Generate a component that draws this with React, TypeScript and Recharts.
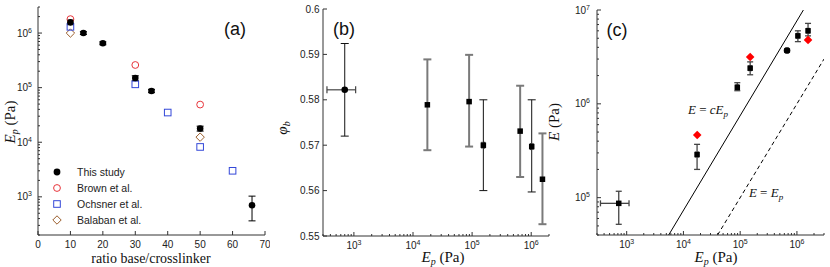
import React from 'react';
import { ScatterChart, Scatter, XAxis, YAxis, ErrorBar, Legend } from 'recharts';

// ---------- Panel (a) data ----------
const ratioStudy = [10, 14, 20, 30, 35, 50, 66];
const epStudy = [1.57e6, 1.0e6, 6.5e5, 1.5e5, 8.7e4, 1.78e4, 700];
const epStudyLow = [1.42e6, 0.94e6, 6.1e5, 1.34e5, 8.1e4, 1.6e4, 363];
const epStudyHigh = [1.72e6, 1.06e6, 6.9e5, 1.65e5, 9.3e4, 1.97e4, 1030];
const ratioBrown = [10, 30, 50];
const epBrown = [1.8e6, 2.6e5, 4.9e4];
const ratioOchsner = [10, 30, 40, 50, 60];
const epOchsner = [1.3e6, 1.15e5, 3.5e4, 8.2e3, 3.0e3];
const ratioBalaban = [10, 50];
const epBalaban = [1.0e6, 1.24e4];
const legendNames = ['This study', 'Brown et al.', 'Ochsner et al.', 'Balaban et al.'];

// ---------- Panel (b) data ----------
const epB = [700, 1.75e4, 8.9e4, 1.55e5, 6.5e5, 1.02e6, 1.55e6];
const epBLow = [350, 1.65e4, 8.4e4, 1.47e5, 6.15e5, 0.97e6, 1.47e6];
const epBHigh = [1070, 1.85e4, 9.4e4, 1.63e5, 6.85e5, 1.07e6, 1.63e6];
const phiB = [0.5822, 0.5789, 0.5796, 0.57, 0.5731, 0.5697, 0.5625];
const phiBLow = [0.572, 0.5689, 0.5697, 0.56, 0.563, 0.5597, 0.5526];
const phiBHigh = [0.5924, 0.5889, 0.5899, 0.58, 0.5831, 0.58, 0.5726];
const grayBarsB = [false, true, true, false, true, false, true];
const circleB = [true, false, false, false, false, false, false];

// ---------- Panel (c) data ----------
const epC = [725, 1.74e4, 8.9e4, 1.5e5, 6.7e5, 1.04e6, 1.57e6];
const epCLow = [345, 1.65e4, 8.5e4, 1.43e5, 6.4e5, 0.99e6, 1.5e6];
const epCHigh = [1100, 1.83e4, 9.3e4, 1.57e5, 7.0e5, 1.09e6, 1.64e6];
const eC = [8.7e4, 2.88e5, 1.5e6, 2.4e6, 3.7e6, 5.3e6, 6.0e6];
const eCLow = [5.2e4, 2.0e5, 1.38e6, 2.04e6, 3.55e6, 4.6e6, 5.3e6];
const eCHigh = [1.17e5, 3.7e5, 1.68e6, 2.8e6, 3.85e6, 6.0e6, 7.2e6];
const circleC = [false, false, false, false, true, false, false];
const epRed = [1.75e4, 1.5e5, 1.57e6];
const eRed = [4.66e5, 3.15e6, 4.8e6];
const lineCEpX = [5500, 1.3e6];
const lineCEpY = [4e4, 1e7];
const lineEqX = [4e4, 3e6];
const lineEqY = [4e4, 3e6];

// ---------- ticks ----------
const aXTicks = [0, 10, 20, 30, 40, 50, 60, 70];
const decadeMajors = [1e3, 1e4, 1e5, 1e6, 1e7];
const bYTicks = [0.55, 0.56, 0.57, 0.58, 0.59, 0.6];
const bYLabels = ['0.55', '0.56', '0.57', '0.58', '0.59', '0.6'];

const logTicks = (lo: number, hi: number) => {
  const out: number[] = [];
  for (let e = Math.floor(Math.log10(lo)); e <= Math.ceil(Math.log10(hi)); e++) {
    for (let m = 1; m < 10; m++) {
      const v = m * Math.pow(10, e);
      if (v >= lo * 0.999 && v <= hi * 1.001) out.push(v);
    }
  }
  return out;
};

const fontSans = '"Liberation Sans", Arial, Helvetica, sans-serif';
const fontSerif = '"Liberation Serif", "Times New Roman", serif';
const axisColor = '#333';
const tickText = '#222';

const isIn = (arr: number[], v: number) => arr.some((m) => Math.abs(m - v) < 1e-9 * Math.max(1, Math.abs(m)));

const pow10 = (v: number) => {
  const e = Math.round(Math.log10(v));
  return (
    <>
      <tspan>10</tspan>
      <tspan dy={-4} fontSize={7}>{e}</tspan>
    </>
  );
};

type Side = 'bottom' | 'top' | 'left' | 'right';
const makeTick = (
  side: Side,
  majors: number[],
  label?: (v: number) => React.ReactNode,
  gap = 4,
) => (props: any) => {
  const { x, y, payload } = props;
  const v = payload.value;
  const major = isIn(majors, v);
  const len = major ? 4 : 2;
  let line: React.ReactNode = null;
  if (side === 'bottom') line = <line x1={x} y1={y} x2={x} y2={y - len} stroke={axisColor} />;
  if (side === 'top') line = <line x1={x} y1={y} x2={x} y2={y + len} stroke={axisColor} />;
  if (side === 'left') line = <line x1={x} y1={y} x2={x + len} y2={y} stroke={axisColor} />;
  if (side === 'right') line = <line x1={x} y1={y} x2={x - len} y2={y} stroke={axisColor} />;
  let text: React.ReactNode = null;
  if (major && label) {
    if (side === 'bottom')
      text = (
        <text x={x} y={y + 13} textAnchor="middle" fontSize={10} fontFamily={fontSans} fill={tickText}>
          {label(v)}
        </text>
      );
    if (side === 'left')
      text = (
        <text x={x - gap} y={y + 3.5} textAnchor="end" fontSize={10} fontFamily={fontSans} fill={tickText}>
          {label(v)}
        </text>
      );
  }
  return (
    <g>
      {line}
      {text}
    </g>
  );
};

const axisLine = { stroke: axisColor, strokeWidth: 1 };
const common = { tickSize: 0, tickMargin: 0, tickLine: false, interval: 0 as const, allowDataOverflow: true, axisLine };

// ---------- tables ----------
const tableStudy = ratioStudy.map((x, i) => ({ x, y: epStudy[i], err: [epStudy[i] - epStudyLow[i], epStudyHigh[i] - epStudy[i]] }));
const tableBrown = ratioBrown.map((x, i) => ({ x, y: epBrown[i] }));
const tableOchsner = ratioOchsner.map((x, i) => ({ x, y: epOchsner[i] }));
const tableBalaban = ratioBalaban.map((x, i) => ({ x, y: epBalaban[i] }));

const tableB = epB.map((x, i) => ({
  x,
  y: phiB[i],
  ex: [x - epBLow[i], epBHigh[i] - x],
  ey: [phiB[i] - phiBLow[i], phiBHigh[i] - phiB[i]],
  circle: circleB[i],
}));
const tableBGray = tableB.filter((_, i) => grayBarsB[i]);
const tableBBlack = tableB.filter((_, i) => !grayBarsB[i]);

const tableC = epC.map((x, i) => ({
  x,
  y: eC[i],
  ex: [x - epCLow[i], epCHigh[i] - x],
  ey: [eC[i] - eCLow[i], eCHigh[i] - eC[i]],
  circle: circleC[i],
}));
const tableRed = epRed.map((x, i) => ({ x, y: eRed[i] }));
const tableLineC = lineCEpX.map((x, i) => ({ x, y: lineCEpY[i] }));
const tableLineEq = lineEqX.map((x, i) => ({ x, y: lineEqY[i] }));

// ---------- shapes ----------
const BlackCircle = (r: number) => (p: any) => <circle cx={p.cx} cy={p.cy} r={r} fill="#000" />;
const RedCircle = (p: any) => <circle cx={p.cx} cy={p.cy} r={3.4} fill="none" stroke="#e8353b" strokeWidth={1} />;
const BlueSquare = (p: any) => <rect x={p.cx - 3.3} y={p.cy - 3.3} width={6.6} height={6.6} fill="none" stroke="#3347d8" strokeWidth={1} />;
const BrownDiamond = (p: any) => (
  <path d={`M${p.cx},${p.cy - 4.2}L${p.cx + 4.2},${p.cy}L${p.cx},${p.cy + 4.2}L${p.cx - 4.2},${p.cy}Z`} fill="none" stroke="#9b5e2c" strokeWidth={1} />
);
const RedDiamond = (p: any) => (
  <path d={`M${p.cx},${p.cy - 4.3}L${p.cx + 4.3},${p.cy}L${p.cx},${p.cy + 4.3}L${p.cx - 4.3},${p.cy}Z`} fill="#ff0000" />
);
const SquareOrCircle = (s: number) => (p: any) =>
  p.payload && p.payload.circle ? (
    <circle cx={p.cx} cy={p.cy} r={s * 0.6} fill="#000" />
  ) : (
    <rect x={p.cx - s / 2} y={p.cy - s / 2} width={s} height={s} fill="#000" />
  );
const NoShape = () => <g />;

const legendIcons = [
  <circle cx={5} cy={5} r={3.4} fill="#000" />,
  <circle cx={5} cy={5} r={3.4} fill="none" stroke="#e8353b" />,
  <rect x={1.7} y={1.7} width={6.6} height={6.6} fill="none" stroke="#3347d8" />,
  <path d="M5,0.8L9.2,5L5,9.2L0.8,5Z" fill="none" stroke="#9b5e2c" />,
];

const LegendBox = () => (
  <div style={{ fontFamily: fontSans, fontSize: 10.5, color: '#222' }}>
    {legendNames.map((n, i) => (
      <div key={n} style={{ display: 'flex', alignItems: 'center', height: 16 }}>
        <svg width={10} height={10} style={{ marginRight: 15, overflow: 'visible' }}>
          {legendIcons[i]}
        </svg>
        <span>{n}</span>
      </div>
    ))}
  </div>
);

const aYTicks = logTicks(200, 3e6);
const bXTicks = logTicks(300, 2e6);
const cXTicks = logTicks(300, 3e6);
const cYTicks = logTicks(4e4, 1e7);

const PanelA = () => (
  <ScatterChart width={270} height={267} margin={{ top: 7, right: 5, bottom: 0, left: 0 }}>
    <XAxis dataKey="x" type="number" domain={[0, 70]} ticks={aXTicks} height={32} tick={makeTick('bottom', aXTicks, (v) => String(v))} {...common} />
    <XAxis xAxisId="t" orientation="top" dataKey="x" type="number" domain={[0, 70]} ticks={aXTicks} height={0} tick={makeTick('top', aXTicks)} {...common} />
    <YAxis dataKey="y" type="number" scale="log" domain={[200, 3e6]} ticks={aYTicks} width={38} tick={makeTick('left', decadeMajors, pow10, 6)} {...common} />
    <YAxis yAxisId="r" orientation="right" dataKey="y" type="number" scale="log" domain={[200, 3e6]} ticks={aYTicks} width={0} tick={makeTick('right', decadeMajors)} {...common} />
    <Scatter data={tableBalaban} shape={BrownDiamond} isAnimationActive={false} />
    <Scatter data={tableOchsner} shape={BlueSquare} isAnimationActive={false} />
    <Scatter data={tableBrown} shape={RedCircle} isAnimationActive={false} />
    <Scatter data={tableStudy} shape={BlackCircle(3.3)} isAnimationActive={false}>
      <ErrorBar dataKey="err" direction="y" width={3.5} stroke="#000" strokeWidth={1} isAnimationActive={false} />
    </Scatter>
    <Legend layout="vertical" align="center" verticalAlign="middle" content={() => <LegendBox />} wrapperStyle={{ left: 52, top: 163.5, width: 130 }} />
  </ScatterChart>
);

const PanelB = () => (
  <ScatterChart width={285} height={267} margin={{ top: 9, right: 6, bottom: 0, left: 0 }}>
    <XAxis dataKey="x" type="number" scale="log" domain={[300, 2e6]} ticks={bXTicks} height={31} tick={makeTick('bottom', decadeMajors, pow10)} {...common} />
    <XAxis xAxisId="t" orientation="top" dataKey="x" type="number" scale="log" domain={[300, 2e6]} ticks={bXTicks} height={0} tick={makeTick('top', decadeMajors)} {...common} />
    <YAxis dataKey="y" type="number" domain={[0.55, 0.6]} ticks={bYTicks} width={53} tick={makeTick('left', bYTicks, (v) => bYLabels[bYTicks.findIndex((t) => Math.abs(t - v) < 1e-9)], 3.5)} {...common} />
    <YAxis yAxisId="r" orientation="right" dataKey="y" type="number" domain={[0.55, 0.6]} ticks={bYTicks} width={0} tick={makeTick('right', bYTicks)} {...common} />
    <Scatter data={tableBGray} shape={SquareOrCircle(5.5)} isAnimationActive={false}>
      <ErrorBar dataKey="ey" direction="y" width={4} stroke="#7a7a7a" strokeWidth={2} isAnimationActive={false} />
      <ErrorBar dataKey="ex" direction="x" width={2} stroke="#7a7a7a" strokeWidth={1.5} isAnimationActive={false} />
    </Scatter>
    <Scatter data={tableBBlack} shape={SquareOrCircle(5.5)} isAnimationActive={false}>
      <ErrorBar dataKey="ey" direction="y" width={4} stroke="#111" strokeWidth={1} isAnimationActive={false} />
      <ErrorBar dataKey="ex" direction="x" width={3.5} stroke="#444" strokeWidth={1.2} isAnimationActive={false} />
    </Scatter>
  </ScatterChart>
);

const PanelC = () => (
  <ScatterChart width={280} height={267} margin={{ top: 10, right: 6, bottom: 0, left: 0 }}>
    <XAxis dataKey="x" type="number" scale="log" domain={[300, 3e6]} ticks={cXTicks} height={32} tick={makeTick('bottom', decadeMajors, pow10)} {...common} />
    <XAxis xAxisId="t" orientation="top" dataKey="x" type="number" scale="log" domain={[300, 3e6]} ticks={cXTicks} height={0} tick={makeTick('top', decadeMajors)} {...common} />
    <YAxis dataKey="y" type="number" scale="log" domain={[4e4, 1e7]} ticks={cYTicks} width={47} tick={makeTick('left', decadeMajors, pow10, 7)} {...common} />
    <YAxis yAxisId="r" orientation="right" dataKey="y" type="number" scale="log" domain={[4e4, 1e7]} ticks={cYTicks} width={0} tick={makeTick('right', decadeMajors)} {...common} />
    <Scatter data={tableLineC} line={{ stroke: '#000', strokeWidth: 1 }} shape={NoShape} isAnimationActive={false} />
    <Scatter data={tableLineEq} line={{ stroke: '#000', strokeWidth: 1, strokeDasharray: '4 3' }} shape={NoShape} isAnimationActive={false} />
    <Scatter data={tableC} shape={SquareOrCircle(5.5)} isAnimationActive={false}>
      <ErrorBar dataKey="ey" direction="y" width={3} stroke="#444" strokeWidth={1.3} isAnimationActive={false} />
      <ErrorBar dataKey="ex" direction="x" width={3} stroke="#444" strokeWidth={1.3} isAnimationActive={false} />
    </Scatter>
    <Scatter data={tableRed} shape={RedDiamond} isAnimationActive={false} />
  </ScatterChart>
);

const Overlay = () => (
  <svg width={830} height={267} style={{ position: 'absolute', left: 0, top: 0, pointerEvents: 'none' }}>
    <g fontFamily={fontSerif} fill="#111">
      <text x={151} y={263} textAnchor="middle" fontSize={14}>ratio base/crosslinker</text>
      <text transform="translate(15,122) rotate(-90)" textAnchor="middle" fontSize={15}>
        <tspan fontStyle="italic">E</tspan>
        <tspan fontStyle="italic" fontSize={10} dy={3}>p</tspan>
        <tspan dy={-3}> (Pa)</tspan>
      </text>
      <text transform="translate(287,128) rotate(-90)" textAnchor="middle" fontSize={15}>
        <tspan fontStyle="italic">φ</tspan>
        <tspan fontStyle="italic" fontSize={10} dy={3}>b</tspan>
      </text>
      <text x={443} y={262} textAnchor="middle" fontSize={15}>
        <tspan fontStyle="italic">E</tspan>
        <tspan fontStyle="italic" fontSize={10} dy={3}>p</tspan>
        <tspan dy={-3}> (Pa)</tspan>
      </text>
      <text x={716} y={262} textAnchor="middle" fontSize={15}>
        <tspan fontStyle="italic">E</tspan>
        <tspan fontStyle="italic" fontSize={10} dy={3}>p</tspan>
        <tspan dy={-3}> (Pa)</tspan>
      </text>
      <text transform="translate(559,122) rotate(-90)" textAnchor="middle" fontSize={15}>
        <tspan fontStyle="italic">E</tspan>
        <tspan> (Pa)</tspan>
      </text>
      <text x={708} y={114} textAnchor="middle" fontSize={13}>
        <tspan fontStyle="italic">E</tspan>
        <tspan> = </tspan>
        <tspan fontStyle="italic">cE</tspan>
        <tspan fontStyle="italic" fontSize={9} dy={2.5}>p</tspan>
      </text>
      <text x={766} y={197} textAnchor="middle" fontSize={13}>
        <tspan fontStyle="italic">E</tspan>
        <tspan> = </tspan>
        <tspan fontStyle="italic">E</tspan>
        <tspan fontStyle="italic" fontSize={9} dy={2.5}>p</tspan>
      </text>
    </g>
    <g fontFamily={fontSans} fill="#111" fontSize={18}>
      <text x={235} y={35} textAnchor="middle">(a)</text>
      <text x={344} y={35} textAnchor="middle">(b)</text>
      <text x={617} y={36} textAnchor="middle">(c)</text>
    </g>
  </svg>
);

export default function App() {
  return (
    <div style={{ position: 'absolute', left: 0, top: 0, width: 830, height: 267, background: '#fff', overflow: 'hidden' }}>
      <div style={{ position: 'absolute', left: 0, top: 0 }}>
        <PanelA />
      </div>
      <div style={{ position: 'absolute', left: 270, top: 0 }}>
        <PanelB />
      </div>
      <div style={{ position: 'absolute', left: 550, top: 0 }}>
        <PanelC />
      </div>
      <Overlay />
    </div>
  );
}
